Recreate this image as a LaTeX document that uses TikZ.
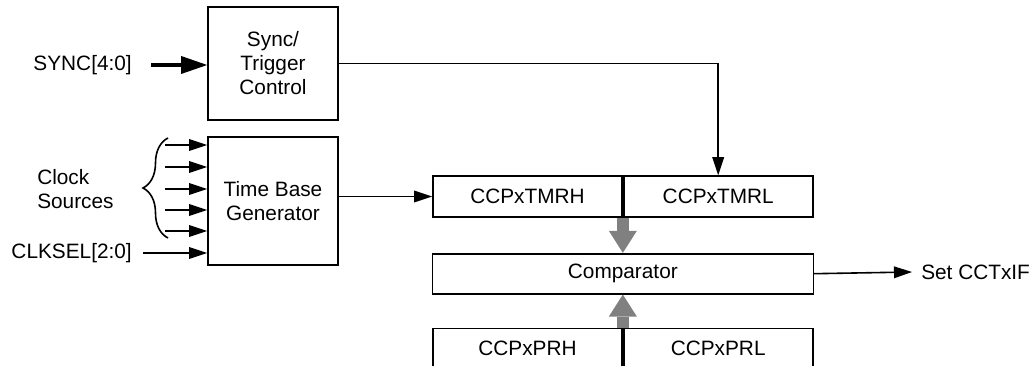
\documentclass[tikz,border=0pt]{standalone}
\usepackage{fontspec}
\setmainfont{Liberation Sans}
\usetikzlibrary{shapes,arrows.meta,positioning,calc,decorations.pathreplacing}
\newlength{\px}
\setlength{\px}{0.75pt}

\begin{document}
\begin{tikzpicture}[
    x=0.75pt, y=-0.75pt,
    font=\fontsize{15.6}{18}\selectfont,
    block/.style={rectangle, draw, line width=1.7\px, align=center, inner sep=0pt},
    ctrl/.style={block, minimum width=130\px},
    reg/.style={block, minimum width=189\px, minimum height=41\px},
    lbl/.style={inner sep=0pt, align=left},
    arrow/.style={-{Triangle[length=13.5pt, width=9pt, line width=0pt]}, line width=1.6\px},
    thickarrow/.style={-{Triangle[length=19.5pt, width=13.5pt, line width=0pt]}, line width=3.5\px},
    bus/.style={-{Triangle[length=16.5pt, width=21pt, line width=0pt]}, line width=12\px, draw=gray}
]
\useasboundingbox (0,0) rectangle (1036,366);

% control blocks
\node[ctrl, minimum height=113\px] (sync) at (273,63.5) {Sync/\\Trigger\\Control};
\node[ctrl, minimum height=128\px, below=15\px of sync] (tbg) {Time Base\\Generator};

% timer, comparator and period registers
\node[reg] (tmrh) at (527.5,196.5) {CCPxTMRH};
\node[reg, right=0pt of tmrh] (tmrl) {CCPxTMRL};
\node[block, minimum width=381\px, minimum height=40\px, below=35\px of tmrh.south east] (comp) {Comparator};
\node[reg, minimum height=39\px, below left=33\px and 0pt of comp.south] (prh) {CCPxPRH};
\node[reg, minimum height=39\px, right=0pt of prh] (prl) {CCPxPRL};

% inputs
\node[lbl, anchor=east] (syncin) at (132,65) {SYNC[4:0]};
\draw[thickarrow] ([xshift=14.25pt]syncin.east) -- (syncin.east -| sync.west);

\node[lbl, anchor=west] (clksrc) at (37,189) {Clock\\Sources};
\coordinate (brtop) at (168,138);
\coordinate (brbot) at (168,238);
\draw[line width=1.6\px, decorate, decoration={brace, amplitude=18.75pt}] (brbot) -- (brtop);
\foreach \y [count=\i] in {145,167,189,210,231} {
    \coordinate (clk\i) at (165,\y);
    \draw[arrow] (clk\i) -- (clk\i -| tbg.west);
}

\node[lbl, anchor=east] (clksel) at (132,253) {CLKSEL[2:0]};
\draw[arrow] ([xshift=8.25pt]clksel.east) -- (clksel.east -| tbg.west);

% connections
\draw[arrow] (sync.east) -| (tmrl.north);
\draw[arrow] (tbg.east |- tmrh.west) -- (tmrh.west);
\draw[bus] (tmrh.south east) -- (tmrh.south east |- comp.north);
\draw[bus] (prh.north east) -- (prh.north east |- comp.south);

% output
\node[lbl, anchor=west, inner xsep=6.75pt] (setif) at (912,272) {Set CCTxIF};
\draw[arrow] (comp.east) -- (setif.west);
\end{tikzpicture}
\end{document}
